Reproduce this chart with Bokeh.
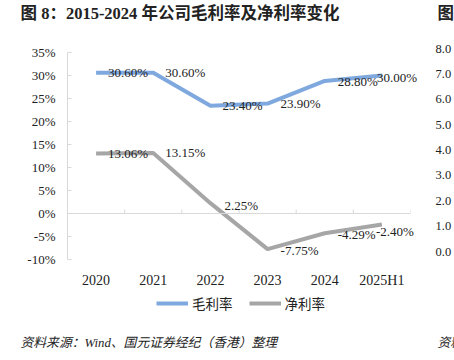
from bokeh.plotting import figure
from bokeh.layouts import column
from bokeh.models import (ColumnDataSource, FactorRange, FixedTicker, PrintfTickFormatter,
                          Span, Legend, LegendItem, LinearAxis, Range1d)
from bokeh.core.properties import value
from bokeh.embed import file_html
from bokeh.resources import INLINE

# ---- data ----
years = ["2020", "2021", "2022", "2023", "2024", "2025H1"]
gross_margin = [30.60, 30.60, 23.40, 23.90, 28.80, 30.00]
net_margin = [13.06, 13.15, 2.25, -7.75, -4.29, -2.40]
y_ticks = [-10, -5, 0, 5, 10, 15, 20, 25, 30, 35]
neighbor_ticks = [0, 1, 2, 3, 4, 5, 6, 7, 8]

title_text = "图 8：2015-2024 年公司毛利率及净利率变化"
next_title_text = "图 9"
source_text = "资料来源：Wind、国元证券经纪（香港）整理"
next_source_text = "资料来源"
series_names = ["毛利率", "净利率"]

# ---- style ----
BLUE = "#7FA8DE"
GRAY = "#A6A6A6"
AXIS = "#D9D9D9"
TXT = "#222222"
SERIF = "Liberation Serif, Noto Sans CJK SC"
CJK = "Noto Sans CJK SC"
gross_dx = [12, 12, 12, 13, 13, -5]
gross_dy = [0, 0, 0, 0, 1, 2]
net_dx = [12, 12, 14, 13, 13, -6]
net_dy = [0, 0, 2, 1, 1, 7]

W = 454


def deco_figure(h):
    f = figure(width=W, height=h, x_range=Range1d(0, W), y_range=Range1d(0, h),
               output_backend="svg", toolbar_location=None, min_border=0)
    f.frame_align = False
    f.axis.visible = False
    f.grid.visible = False
    f.outline_line_color = None
    f.background_fill_color = "white"
    f.border_fill_color = "white"
    return f


def deco_text(f, h, x, y, text, size, style):
    t = f.text(x=[x], y=[h - y], text=[text], text_font=value(SERIF), text_font_size=size,
               text_font_style=style, text_color=TXT, text_baseline="middle", text_align="left")
    t.level = "overlay"


def rule_figure(x0, color):
    # a 2px-high figure whose frame background forms the horizontal rule
    f = figure(width=W, height=2, x_range=Range1d(0, 1), y_range=Range1d(0, 1),
               output_backend="svg", toolbar_location=None, min_border=0,
               min_border_left=x0)
    f.frame_align = False
    f.axis.visible = False
    f.grid.visible = False
    f.outline_line_color = None
    f.background_fill_color = color
    f.border_fill_color = "white"
    return f


# ---- top: title ----
TH = 31
top = deco_figure(TH)
deco_text(top, TH, 20, 13, title_text, "16.5px", "bold")
deco_text(top, TH, 437, 13, next_title_text, "16.5px", "bold")
rule_top = rule_figure(17, "#595959")

# ---- main chart ----
p = figure(width=W, height=257, x_range=FactorRange(*years, range_padding=0),
           y_range=Range1d(-10, 35.86), output_backend="svg", toolbar_location=None,
           min_border_left=67, min_border_right=36, min_border_top=15, min_border_bottom=29)
p.frame_align = False
p.outline_line_color = None
p.xgrid.visible = False
p.ygrid.visible = False
p.background_fill_color = "white"
p.border_fill_color = "white"

ya = p.yaxis[0]
ya.ticker = FixedTicker(ticks=y_ticks)
ya.formatter = PrintfTickFormatter(format="%d%%")
ya.bounds = (min(y_ticks), max(y_ticks))
ya.axis_line_color = AXIS
ya.major_tick_line_color = AXIS
ya.major_tick_in = 4
ya.major_tick_out = 0
ya.minor_tick_line_color = None
ya.major_label_standoff = 12
ya.major_label_text_font = SERIF
ya.major_label_text_font_size = "13px"
ya.major_label_text_color = TXT

xa = p.xaxis[0]
xa.axis_line_color = None
xa.major_tick_line_color = None
xa.minor_tick_line_color = None
xa.major_label_standoff = 7
xa.major_label_text_font = SERIF
xa.major_label_text_font_size = "14px"
xa.major_label_text_color = TXT

# neighbouring chart's axis, cut off by the page edge
p.extra_y_ranges = {"nb": Range1d(-0.312, 8.0001)}
ra = LinearAxis(y_range_name="nb", ticker=FixedTicker(ticks=neighbor_ticks),
                formatter=PrintfTickFormatter(format="%.1f"))
ra.axis_line_color = None
ra.major_tick_line_color = None
ra.minor_tick_line_color = None
ra.major_label_standoff = 19
ra.major_label_text_font = SERIF
ra.major_label_text_font_size = "12.5px"
ra.major_label_text_color = TXT
p.add_layout(ra, "right")

# zero line with category-boundary ticks
p.add_layout(Span(location=0, dimension="width", line_color=AXIS, line_width=1))
bounds = list(range(1, len(years) + 1))
p.segment(x0=bounds, x1=bounds, y0=[0] * len(bounds), y1=[0.85] * len(bounds),
          line_color=AXIS, line_width=1)

src = ColumnDataSource(dict(
    x=years, g=gross_margin, n=net_margin,
    gl=["%.2f%%" % v for v in gross_margin],
    nl=["%.2f%%" % v for v in net_margin],
    gdx=gross_dx, gdy=gross_dy, ndx=net_dx, ndy=net_dy,
))

r1 = p.line("x", "g", source=src, line_color=BLUE, line_width=4)
r2 = p.line("x", "n", source=src, line_color=GRAY, line_width=4)

for col, yc, dx, dy in (("gl", "g", "gdx", "gdy"), ("nl", "n", "ndx", "ndy")):
    t = p.text(x="x", y=yc, text=col, source=src, x_offset=dx, y_offset=dy,
               text_font=value(SERIF), text_font_size="13px", text_color=TXT,
               text_align="left", text_baseline="middle")
    t.level = "overlay"

# ---- legend strip ----
LH = 38
leg = deco_figure(LH)
l1 = leg.line(x=[-10, -5], y=[-10, -10], line_color=BLUE, line_width=4)
l2 = leg.line(x=[-10, -5], y=[-10, -10], line_color=GRAY, line_width=4)
legend = Legend(items=[LegendItem(label=series_names[0], renderers=[l1]),
                       LegendItem(label=series_names[1], renderers=[l2])],
                orientation="horizontal", location=(156, 15),
                glyph_width=32, glyph_height=16, label_height=16, label_standoff=4, spacing=16,
                label_text_font=CJK, label_text_font_size="13.5px", label_text_color=TXT,
                border_line_color=None, background_fill_alpha=0, padding=0, margin=0)
leg.add_layout(legend)

rule_bot = rule_figure(17, "#808080")

# ---- source strip ----
SH = 30
srcfig = deco_figure(SH)
deco_text(srcfig, SH, 20, 12, source_text, "12.8px", "italic")
deco_text(srcfig, SH, 437, 12, next_source_text, "12.8px", "italic")

layout = column(top, rule_top, p, leg, rule_bot, srcfig, spacing=0)
open("out.html", "w").write(file_html(layout, INLINE))
